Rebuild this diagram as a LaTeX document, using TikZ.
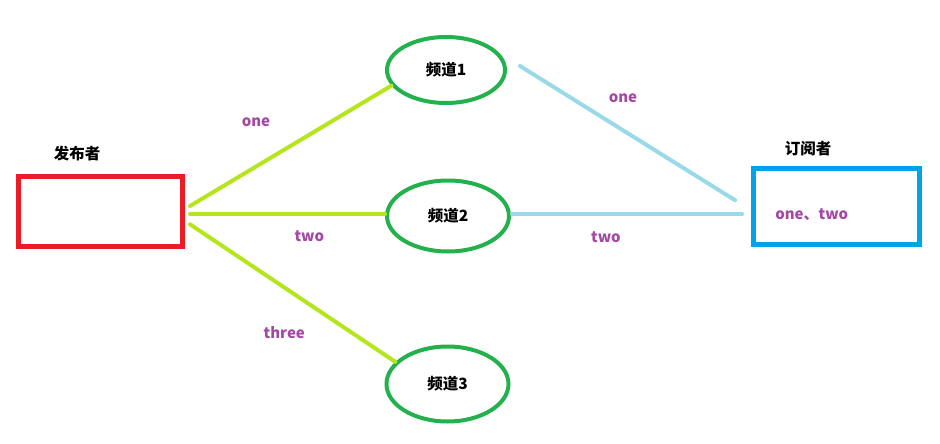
\documentclass[tikz,border=0pt]{standalone}
\usepackage{fontspec}
\newfontfamily\cjk{Noto Sans CJK SC}
\usetikzlibrary{shapes.geometric}
\definecolor{boxred}{HTML}{ED1C24}
\definecolor{boxblue}{HTML}{00A2E8}
\definecolor{chgreen}{HTML}{22B14C}
\definecolor{lime}{HTML}{B5E61D}
\definecolor{lightblue}{HTML}{99D9EA}
\definecolor{labpurple}{HTML}{A349A4}
\begin{document}
\begin{tikzpicture}[x=1pt,y=-1pt,
  rolebox/.style={draw, line width=5pt, rectangle, inner sep=0pt},
  channel/.style={draw=chgreen, line width=4pt, ellipse, inner sep=0pt, font=\cjk\bfseries\fontsize{15.5}{15.5}\selectfont},
  title/.style={inner sep=0pt, font=\cjk\bfseries\fontsize{15.5}{15.5}\selectfont},
  lab/.style={inner sep=0pt, text=labpurple, font=\cjk\bfseries\fontsize{15}{15}\selectfont},
  publine/.style={draw=lime, line width=4pt, line cap=round},
  subline/.style={draw=lightblue, line width=4pt, line cap=round}]
\useasboundingbox (0,0) rectangle (940,444);
% boxes
\node[rolebox, draw=boxred, minimum width=164pt, minimum height=70.5pt] (pub) at (100.5,211.25) {};
\node[rolebox, draw=boxblue, minimum width=165.7pt, minimum height=76pt] (sub) at (836.4,206.2) {};
\node[title] (pubt) at (77,154) {发布者};
\node[title] (subt) at (808,149) {订阅者};
\node[lab] (subl) at (811.7,215) {one、two};
% channels
\node[channel, minimum width=118pt, minimum height=66pt] (c1) at (446,70) {频道1};
\node[channel, minimum width=122pt, minimum height=71pt] (c2) at (448,216) {频道2};
\node[channel, minimum width=122pt, minimum height=75pt] (c3) at (447.5,384) {频道3};
% publisher connectors
\coordinate (p1) at (190,206);
\coordinate (p2) at (190,214.3);
\coordinate (p3) at (190,224.3);
\draw[publine] (p1) -- (c1.196);
\draw[publine] (p2) -- (p2 -| c2.west);
\draw[publine] (p3) -- (c3.157.8);
% subscriber connectors
\draw[subline] ([xshift=13pt,yshift=4pt]c1.east) -- ([xshift=-16pt,yshift=6pt]sub.west);
\draw[subline] ([xshift=1pt,yshift=1.7pt]c2.east) -- ([xshift=-9pt,yshift=-8.1pt]sub.west);
% labels
\node[lab] (l1) at (256,122) {one};
\node[lab] (l2) at (309.3,236.7) {two};
\node[lab] (l3) at (284.3,332.3) {three};
\node[lab] (l4) at (623,98) {one};
\node[lab] (l5) at (606,237) {two};
\end{tikzpicture}
\end{document}
